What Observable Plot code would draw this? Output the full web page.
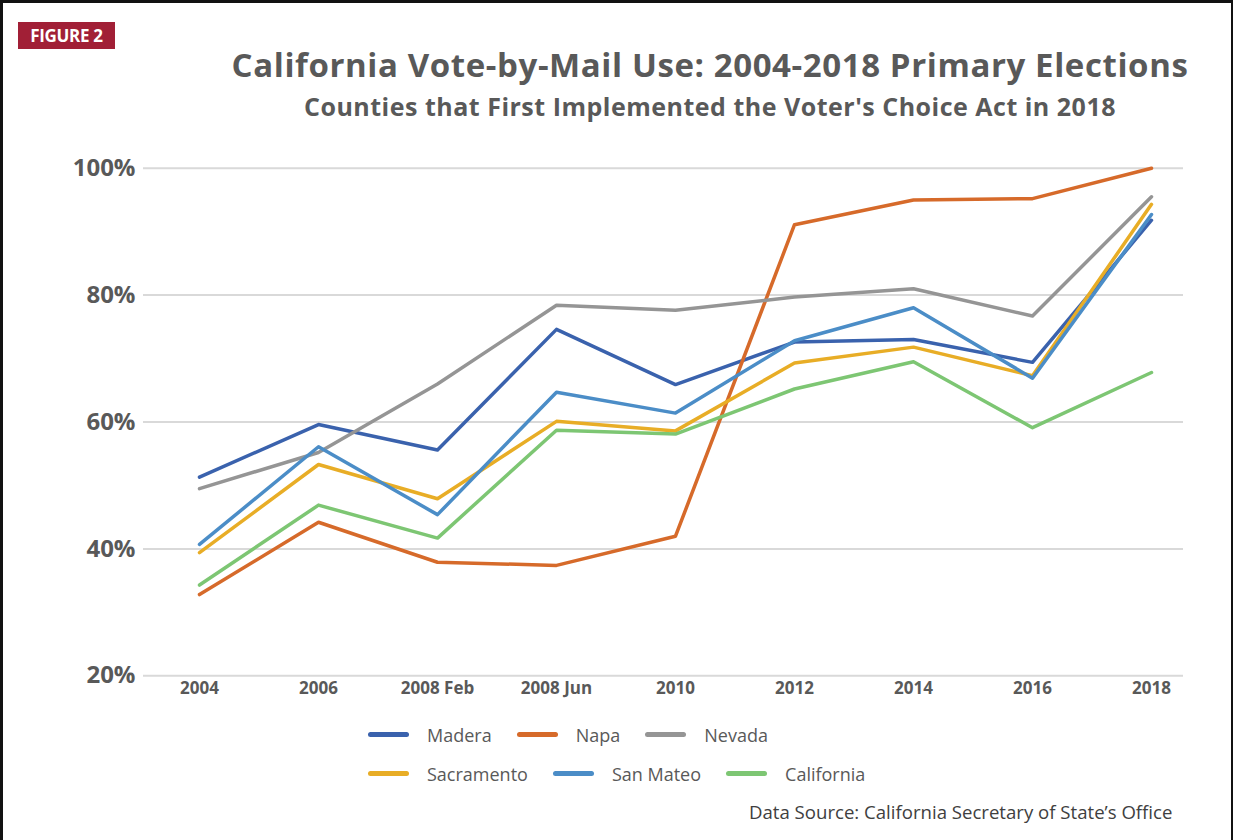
<!DOCTYPE html>
<html>
<head>
<meta charset="utf-8">
<script src="https://cdn.jsdelivr.net/npm/d3@7"></script>
<script src="https://cdn.jsdelivr.net/npm/@observablehq/plot@0.6"></script>
<style>
  html, body { margin: 0; padding: 0; background: #fff; overflow: hidden; }
  #page { position: relative; width: 1236px; height: 840px; font-family: "Open Sans", sans-serif; }
  #frame { position: absolute; left: 0; top: 0; width: 1228px; height: 845px; border-left: 3px solid #111; border-top: 3px solid #111; border-right: 2px solid #111; }
  #badge { position: absolute; left: 18px; top: 22px; width: 97px; height: 27px; background: #A11F36; color: #fff; font-weight: 700; font-size: 17px; line-height: 27px; text-align: center; letter-spacing: -0.3px; }
  #title { position: absolute; left: 210px; width: 1000px; top: 45px; line-height: 40px; text-align: center; color: #595959; font-weight: 700; font-size: 33px; white-space: nowrap; letter-spacing: 0.6px; }
  #subtitle { position: absolute; left: 260px; width: 900px; top: 88.5px; line-height: 34px; text-align: center; color: #595959; font-weight: 700; font-size: 25px; white-space: nowrap; letter-spacing: 0.5px; }
  #chart { position: absolute; left: 0; top: 130px; }
  #legend { position: absolute; left: 368px; top: 715px; color: #595959; font-size: 18px; }
  .row { display: flex; align-items: center; height: 39px; }
  .item { display: flex; align-items: center; margin-right: 25px; }
  .sw { width: 41px; height: 5px; border-radius: 3px; margin-right: 18px; }
  #source { position: absolute; left: 749px; top: 799px; color: #404040; font-size: 18.6px; white-space: nowrap; }
</style>
</head>
<body>
<div id="page">
  <div id="frame"></div>
  <div id="badge">FIGURE 2</div>
  <div id="title">California Vote-by-Mail Use: 2004-2018 Primary Elections</div>
  <div id="subtitle">Counties that First Implemented the Voter's Choice Act in 2018</div>
  <div id="chart"></div>
  <div id="legend"></div>
  <div id="source">Data Source: California Secretary of State’s Office</div>
</div>
<script>
const categories = ["2004", "2006", "2008 Feb", "2008 Jun", "2010", "2012", "2014", "2016", "2018"];
const madera     = [51.3, 59.6, 55.6, 74.6, 65.9, 72.6, 73.0, 69.4, 91.8];
const napa       = [32.8, 44.2, 37.9, 37.4, 42.0, 91.1, 95.0, 95.2, 100.0];
const nevada     = [49.5, 55.2, 66.0, 78.4, 77.6, 79.7, 81.0, 76.7, 95.5];
const sacramento = [39.4, 53.3, 47.9, 60.1, 58.6, 69.3, 71.8, 67.3, 94.3];
const sanMateo   = [40.7, 56.1, 45.4, 64.7, 61.4, 72.8, 78.0, 66.9, 92.7];
const california = [34.3, 46.9, 41.7, 58.7, 58.1, 65.2, 69.5, 59.1, 67.8];
const seriesNames = ["Madera", "Napa", "Nevada", "Sacramento", "San Mateo", "California"];
const seriesColors = ["#3A62AD", "#D66A2A", "#959595", "#E8AD26", "#4B8DC7", "#7DC673"];
const yTicks = [20, 40, 60, 80, 100];

const seriesValues = [madera, napa, nevada, sacramento, sanMateo, california];
const rows = [];
seriesNames.forEach((name, i) => {
  categories.forEach((c, j) => rows.push({series: name, period: c, value: seriesValues[i][j]}));
});

const W = 1236, H = 590;
const chart = Plot.plot({
  width: W,
  height: H,
  marginLeft: 143,
  marginRight: 53,
  marginTop: 30,
  marginBottom: 45,
  style: {fontFamily: "'Open Sans', sans-serif", background: "transparent", overflow: "visible"},
  x: {type: "point", domain: categories, range: [197.3, 1153.3], padding: 0, label: null},
  y: {domain: [20, 100], range: [545.3, 37.7], label: null},
  color: {domain: seriesNames, range: seriesColors},
  marks: [
    Plot.ruleY(yTicks, {stroke: "#d9d9d9", strokeWidth: 2}),
    Plot.axisX({tickSize: 0, tickPadding: 6, fontSize: 17, fontWeight: "bold", fill: "#595959", label: null}),
    Plot.axisY({ticks: yTicks, tickSize: 0, tickPadding: 8, fontSize: 24, fontWeight: "bold", fill: "#595959", tickFormat: d => d + "%", label: null, style: {letterSpacing: "-0.8px"}}),
    Plot.line(rows, {x: "period", y: "value", z: "series", stroke: "series", strokeWidth: 3.5, strokeLinejoin: "round", strokeLinecap: "round"})
  ]
});
document.getElementById("chart").appendChild(chart);

const legend = document.getElementById("legend");
[[0, 1, 2], [3, 4, 5]].forEach(idx => {
  const row = document.createElement("div");
  row.className = "row";
  idx.forEach(i => {
    const item = document.createElement("div");
    item.className = "item";
    item.innerHTML = `<span class="sw" style="background:${seriesColors[i]}"></span><span>${seriesNames[i]}</span>`;
    row.appendChild(item);
  });
  legend.appendChild(row);
});
</script>
</body>
</html>
